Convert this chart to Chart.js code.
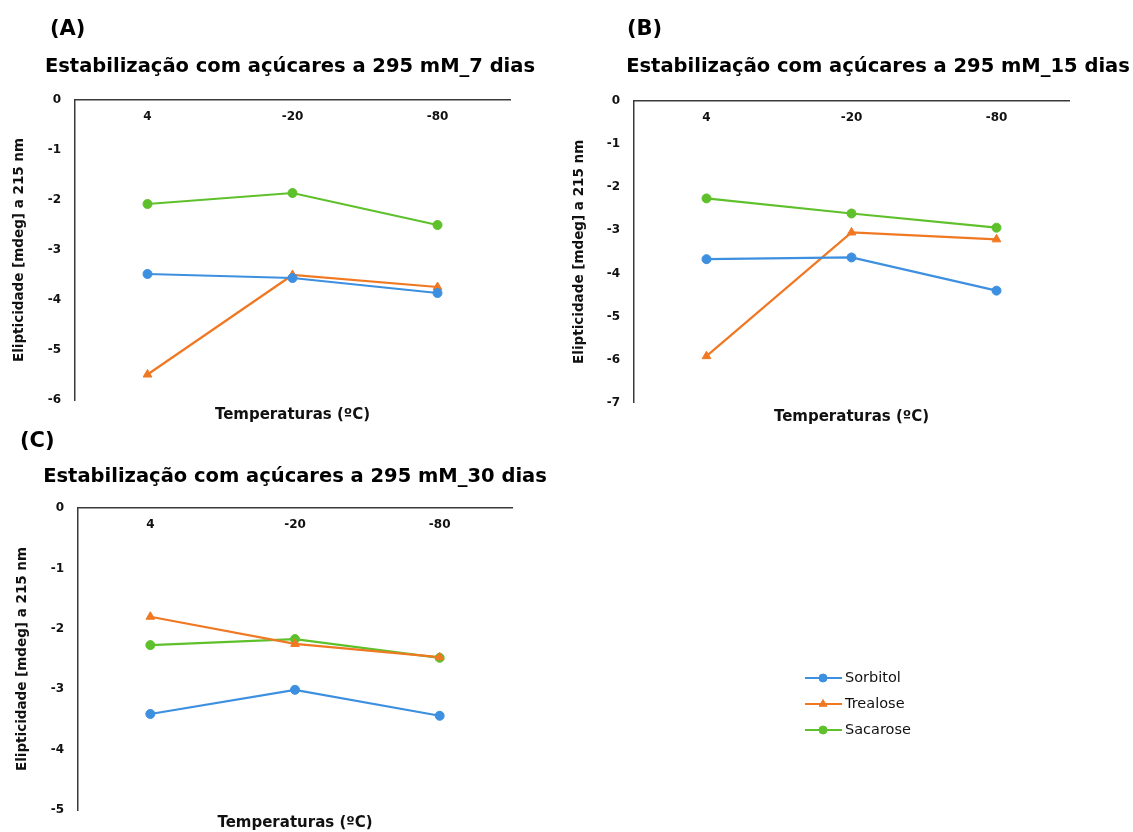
<!DOCTYPE html>
<html>
<head>
<meta charset="utf-8">
<script src="https://cdn.jsdelivr.net/npm/chart.js@4/dist/chart.umd.min.js"></script>
<style>
  body { margin: 0; background: #fff; }
  canvas { position: absolute; }
</style>
</head>
<body>
<canvas id="chart7" width="570" height="430" style="left:0;top:0"></canvas>
<canvas id="chart15" width="563" height="430" style="left:570px;top:0"></canvas>
<canvas id="chart30" width="1133" height="402" style="left:0;top:430px"></canvas>
<script>
// Categories (storage temperature) and series names
const temperatures = ['4', '-20', '-80'];
const sugars = ['Sorbitol', 'Trealose', 'Sacarose'];

// Ellipticity at 215 nm after 7 days
const sorbitol7 = [-3.48, -3.56, -3.86];
const trealose7 = [-5.49, -3.50, -3.74];
const sacarose7 = [-2.08, -1.86, -2.50];

// after 15 days
const sorbitol15 = [-3.67, -3.63, -4.40];
const trealose15 = [-5.92, -3.05, -3.21];
const sacarose15 = [-2.26, -2.61, -2.94];

// after 30 days
const sorbitol30 = [-3.41, -3.01, -3.44];
const trealose30 = [-1.80, -2.25, -2.47];
const sacarose30 = [-2.27, -2.17, -2.48];

const colors = ['#3d8fe0', '#f07822', '#5ec12b'];
const markers = ['circle', 'triangle', 'circle'];
const axisColor = '#3a3a3a';
const textColor = '#111';

Chart.defaults.font.family = '"DejaVu Sans", Verdana, sans-serif';
Chart.defaults.color = textColor;

// Panel letter + chart heading drawn above the plot
const headingPlugin = {
  id: 'heading',
  afterDraw(chart, args, opts) {
    const ctx = chart.ctx;
    ctx.save();
    ctx.fillStyle = '#000';
    ctx.textBaseline = 'middle';
    ctx.textAlign = 'left';
    ctx.font = 'bold 21px "DejaVu Sans"';
    ctx.fillText(opts.letter, opts.letterX, opts.letterY);
    ctx.font = 'bold 19.5px "DejaVu Sans"';
    ctx.textAlign = 'center';
    ctx.fillText(opts.text, opts.textX, opts.textY);
    ctx.restore();
  }
};

// Excel-style legend (line with marker), placed off to the side of the plot
const sideLegendPlugin = {
  id: 'sideLegend',
  afterDraw(chart, args, opts) {
    if (!opts.show) return;
    const ctx = chart.ctx;
    ctx.save();
    chart.data.datasets.forEach((ds, i) => {
      const y = opts.y + i * opts.spacing;
      ctx.strokeStyle = ds.borderColor;
      ctx.lineWidth = 2;
      ctx.beginPath();
      ctx.moveTo(opts.x, y);
      ctx.lineTo(opts.x + 37, y);
      ctx.stroke();
      ctx.fillStyle = ds.backgroundColor;
      ctx.lineWidth = 1;
      Chart.helpers.drawPoint(ctx, { pointStyle: ds.pointStyle, radius: ds.pointRadius - 0.5, borderWidth: 1, rotation: 0 }, opts.x + 18, y);
      ctx.fillStyle = '#111';
      ctx.font = '14.5px "DejaVu Sans"';
      ctx.textAlign = 'left';
      ctx.textBaseline = 'middle';
      ctx.fillText(ds.label, opts.x + 40, y);
    });
    ctx.restore();
  }
};

function makeDatasets(sorbitol, trealose, sacarose) {
  return [sorbitol, trealose, sacarose].map((values, i) => ({
    label: sugars[i],
    data: values,
    borderColor: colors[i],
    backgroundColor: colors[i],
    borderWidth: 2.2,
    pointStyle: markers[i],
    pointRadius: markers[i] === 'triangle' ? 5 : 4.5,
    pointBorderWidth: 1,
    tension: 0
  }));
}

function makeChart(id, datasets, yMin, layout, heading, legend) {
  return new Chart(document.getElementById(id), {
    type: 'line',
    data: { labels: temperatures, datasets: datasets },
    options: {
      responsive: false,
      animation: false,
      devicePixelRatio: 1,
      layout: { padding: { left: 0, top: layout.top, right: layout.right, bottom: 0 } },
      plugins: {
        legend: { display: false },
        title: { display: false },
        tooltip: { enabled: false },
        heading: heading,
        sideLegend: legend || { show: false }
      },
      scales: {
        // category axis sits on the y = 0 line at the top of the plot
        x: {
          type: 'category',
          position: { y: 0 },
          offset: true,
          grid: { display: false, drawTicks: false },
          border: { color: axisColor, width: 1.5 },
          ticks: { font: { size: 12, weight: 'bold' }, color: textColor, padding: 10 }
        },
        // carries only the axis title at the bottom
        x2: {
          type: 'category',
          position: 'bottom',
          offset: true,
          grid: { display: false, drawTicks: false },
          border: { display: false },
          ticks: { display: false },
          title: {
            display: true,
            text: 'Temperaturas (ºC)',
            font: { size: 15, weight: 'bold' },
            color: textColor,
            padding: { top: layout.xTitleTop, bottom: layout.xTitleBottom }
          }
        },
        y: {
          min: yMin,
          max: 0,
          grid: { display: false, drawTicks: false },
          border: { color: axisColor, width: 1.5 },
          ticks: { stepSize: 1, font: { size: 12, weight: 'bold' }, color: textColor, padding: 14 },
          title: {
            display: true,
            text: 'Elipticidade [mdeg] a 215 nm',
            font: { size: 13.5, weight: 'bold' },
            color: textColor,
            padding: { top: layout.yTitlePad, bottom: 0 }
          },
          afterFit(scale) { scale.width = layout.yWidth; }
        }
      }
    },
    plugins: [headingPlugin, sideLegendPlugin]
  });
}

makeChart('chart7', makeDatasets(sorbitol7, trealose7, sacarose7), -6,
  { top: 100, right: 60, yWidth: 75, yTitlePad: 11, xTitleTop: 6, xTitleBottom: 6 },
  { letter: '(A)', letterX: 50, letterY: 30, text: 'Estabilização com açúcares a 295 mM_7 dias', textX: 290, textY: 67 });

makeChart('chart15', makeDatasets(sorbitol15, trealose15, sacarose15), -7,
  { top: 101, right: 64, yWidth: 64, yTitlePad: 1, xTitleTop: 5.3, xTitleBottom: 4 },
  { letter: '(B)', letterX: 57, letterY: 30, text: 'Estabilização com açúcares a 295 mM_15 dias', textX: 308, textY: 67 });

makeChart('chart30', makeDatasets(sorbitol30, trealose30, sacarose30), -5,
  { top: 78, right: 621, yWidth: 78, yTitlePad: 14, xTitleTop: 4, xTitleBottom: 0 },
  { letter: '(C)', letterX: 20, letterY: 12, text: 'Estabilização com açúcares a 295 mM_30 dias', textX: 295, textY: 47 },
  { show: true, x: 805, y: 248, spacing: 26 });
</script>
</body>
</html>
